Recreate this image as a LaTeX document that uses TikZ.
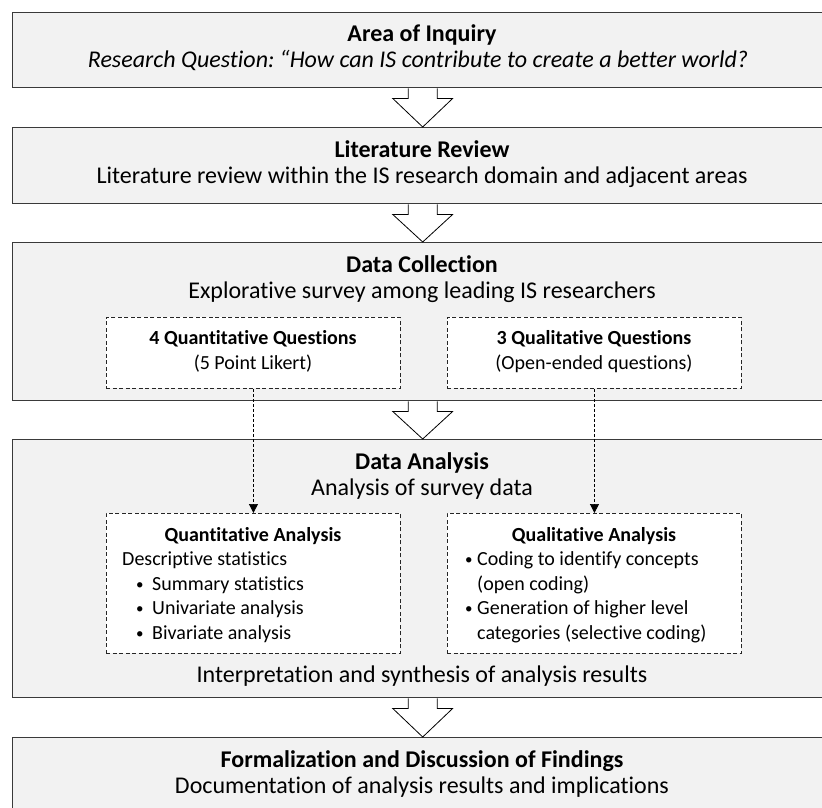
\documentclass[tikz,border=0pt]{standalone}
\usepackage{fontspec}
\setmainfont{Carlito}[Ligatures={NoCommon},RawFeature={-liga;-dlig}]
\usetikzlibrary{arrows.meta,calc}
\definecolor{stagefill}{HTML}{F2F2F2}
\definecolor{stageline}{HTML}{3A3A3A}

% block arrow between two stacked stages
\newcommand\flowarrow[2]{%
  \draw[flow] let \p1=(#1.south), \p2=(#2.north) in
    (\x1-14.5pt,\y1) -- (\x1-14.5pt,\y1-10pt) -- (\x1-30pt,\y1-10pt) --
    (\x1,\y2) -- (\x1+30pt,\y1-10pt) -- (\x1+14.5pt,\y1-10pt) -- (\x1+14.5pt,\y1);}
% small list bullet in a box of the given width
\newcommand\listdot[1]{\makebox[#1][l]{\raisebox{1pt}{\fontsize{15}{15}\selectfont\textbullet}}}

\begin{document}
\begin{tikzpicture}[x=1pt,y=-1pt,
  stagebox/.style={draw=stageline, line width=1.4pt, fill=stagefill, anchor=north west,
    inner sep=0pt, minimum width=820pt},
  subbox/.style={draw=black!85, dash pattern=on 4pt off 2.5pt, line width=0.9pt, fill=white,
    anchor=north west, inner sep=0pt, minimum width=294pt},
  headline/.style={font=\fontsize{24}{29}\selectfont\bfseries, anchor=base, inner sep=0pt},
  textline/.style={font=\fontsize{24}{29}\selectfont, anchor=base, inner sep=0pt},
  subhead/.style={font=\fontsize{20}{24}\selectfont\bfseries, anchor=base, inner sep=0pt},
  subcenter/.style={font=\fontsize{20}{24}\selectfont, anchor=base, inner sep=0pt},
  subline/.style={font=\fontsize{20}{24}\selectfont, anchor=base west, inner sep=0pt},
  flow/.style={draw=black, line width=0.8pt, fill=white, line join=miter},
  link/.style={draw=black, line width=0.7pt, dash pattern=on 3pt off 2pt,
    -{Triangle[length=9pt,width=9pt]}},
]
\useasboundingbox (0,0) rectangle (822,808);

% stages
\node[stagebox, minimum height=75pt]  (b1) at (12,12)  {};
\node[stagebox, minimum height=76pt]  (b2) at (12,127) {};
\node[stagebox, minimum height=158pt] (b3) at (12,242) {};
\node[stagebox, minimum height=258pt] (b4) at (12,439) {};
\node[stagebox, minimum height=76pt]  (b5) at (12,737) {};

% arrows between stages
\flowarrow{b1}{b2}
\flowarrow{b2}{b3}
\flowarrow{b3}{b4}
\flowarrow{b4}{b5}

% stage texts
\node[headline] (t1) at (422,42) {Area of Inquiry};
\node[textline, font=\fontsize{24}{29}\selectfont\itshape] (s1) at (418,68)
  {Research Question:\hspace{-2pt} “How can IS contribute to create a better world?};
\node[headline] (t2) at (422,157) {Literature Review};
\node[textline] (s2) at (422,183) {Literature review within the IS research domain and adjacent areas};
\node[headline] (t3) at (422,272) {Data Collection};
\node[textline] (s3) at (422,298) {Explorative survey among leading IS researchers};
\node[headline] (t4) at (422,469) {Data Analysis};
\node[textline] (s4) at (422,495) {Analysis of survey data};
\node[textline] (s4b) at (422,682) {Interpretation and synthesis of analysis results};
\node[headline] (t5) at (422,767) {Formalization and Discussion of Findings};
\node[textline] (s5) at (422,793) {Documentation of analysis results and implications};

% survey question groups
\node[subbox, minimum height=71pt] (q1) at (106,317) {};
\node[subbox, minimum height=71pt] (q2) at (447,317) {};
\node[subhead]   (q1t) at (253,344) {4 Quantitative Questions};
\node[subcenter] (q1s) at (253,369) {(5 Point Likert)};
\node[subhead]   (q2t) at (594,344) {3 Qualitative Questions};
\node[subcenter] (q2s) at (594,369) {(Open-ended questions)};

% analysis groups
\node[subbox, minimum height=140pt] (a1) at (106,513) {};
\node[subbox, minimum height=140pt] (a2) at (447,513) {};
\node[subhead] (a1t) at (253,541) {Quantitative Analysis};
\node[subline] (a1l1) at (122,565.5) {Descriptive statistics};
\node[subline] (a1l2) at (136,590) {\listdot{16pt}Summary statistics};
\node[subline] (a1l3) at (136,614.5) {\listdot{16pt}Univariate analysis};
\node[subline] (a1l4) at (136,639) {\listdot{16pt}Bivariate analysis};
\node[subhead] (a2t) at (594,541) {Qualitative Analysis};
\node[subline] (a2l1) at (465,565.5) {\listdot{12pt}Coding to identify concepts};
\node[subline] (a2l2) at (477,590) {(open coding)};
\node[subline] (a2l3) at (465,614.5) {\listdot{12pt}Generation of higher level};
\node[subline] (a2l4) at (477,639) {categories (selective coding)};

% question groups feed the analysis groups
\draw[link] (q1.south) -- (a1.north);
\draw[link] (q2.south) -- (a2.north);
\end{tikzpicture}
\end{document}
